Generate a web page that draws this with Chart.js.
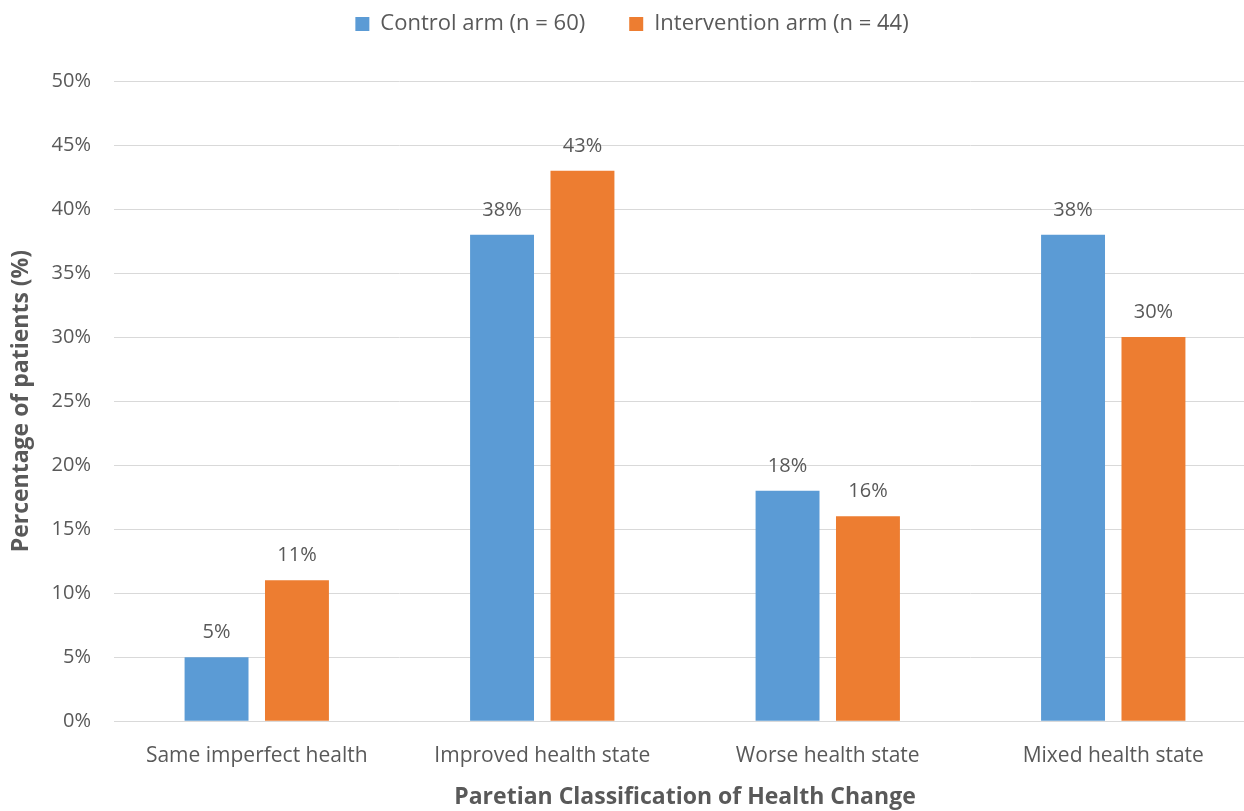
<!DOCTYPE html>
<html>
<head>
<meta charset="utf-8">
<script src="https://cdn.jsdelivr.net/npm/chart.js@4"></script>
<style>
html,body{margin:0;padding:0;background:#fff;overflow:hidden;}
#wrap{width:1244px;height:811px;overflow:hidden;}
</style>
</head>
<body>
<div id="wrap"><canvas id="c" width="1256" height="811"></canvas></div>
<script>
const categories = ["Same imperfect health", "Improved health state", "Worse health state", "Mixed health state"];
const controlValues = [5, 38, 18, 38];
const interventionValues = [11, 43, 16, 30];
const seriesNames = ["Control arm (n = 60)", "Intervention arm (n = 44)"];
const yTicks = [0, 5, 10, 15, 20, 25, 30, 35, 40, 45, 50];

const FONT = "'Open Sans', sans-serif";
const TEXT = "#595959";

const labelPlugin = {
  id: 'barLabels',
  afterDatasetsDraw(chart) {
    const ctx = chart.ctx;
    ctx.save();
    ctx.font = "20px " + FONT;
    ctx.fillStyle = TEXT;
    ctx.textAlign = 'center';
    ctx.textBaseline = 'alphabetic';
    chart.data.datasets.forEach((ds, i) => {
      const meta = chart.getDatasetMeta(i);
      meta.data.forEach((bar, j) => {
        ctx.fillText(ds.data[j] + '%', bar.x, bar.y - 19);
      });
    });
    ctx.restore();
  }
};

const legendSpace = {
  id: 'legendSpace',
  beforeInit(chart) {
    const fit = chart.legend.fit;
    chart.legend.fit = function () {
      fit.bind(chart.legend)();
      this.height += 36;
    };
  }
};

new Chart(document.getElementById('c'), {
  type: 'bar',
  data: {
    labels: categories,
    datasets: [
      { label: seriesNames[0], data: controlValues, backgroundColor: '#5B9BD5', barPercentage: 0.795, categoryPercentage: 0.5633 },
      { label: seriesNames[1], data: interventionValues, backgroundColor: '#ED7D31', barPercentage: 0.795, categoryPercentage: 0.5633 }
    ]
  },
  options: {
    responsive: false,
    animation: false,
    devicePixelRatio: 1,
    layout: { padding: { left: 8, right: 0, top: -31, bottom: 0 } },
    plugins: {
      tooltip: { enabled: false },
      legend: {
        position: 'top',
        labels: {
          font: { family: FONT, size: 22 },
          color: TEXT,
          boxWidth: 14,
          boxHeight: 14,
          padding: 44
        }
      }
    },
    scales: {
      x: {
        grid: { display: false, drawTicks: false },
        border: { display: true, color: '#D9D9D9', width: 1 },
        ticks: { font: { family: FONT, size: 21 }, color: TEXT, padding: 22, maxRotation: 0 },
        title: { display: true, text: 'Paretian Classification of Health Change', font: { family: FONT, size: 23, weight: 'bold' }, color: TEXT, padding: { top: -7, bottom: 0 } }
      },
      y: {
        min: 0, max: 50,
        afterBuildTicks(axis) { axis.ticks = yTicks.map(v => ({ value: v })); },
        grid: { color: '#D9D9D9', drawTicks: false },
        border: { display: false },
        ticks: { font: { family: FONT, size: 20 }, color: TEXT, padding: 23, callback: v => v + '%' },
        title: { display: true, text: 'Percentage of patients (%)', font: { family: FONT, size: 23, weight: 'bold' }, color: TEXT, padding: { top: 0, bottom: -7 } }
      }
    }
  },
  plugins: [labelPlugin, legendSpace]
});
</script>
</body>
</html>
